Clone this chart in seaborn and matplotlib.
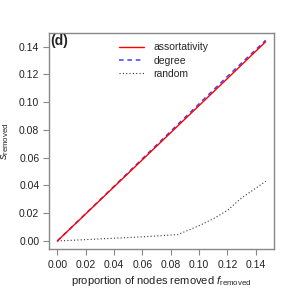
import numpy as np
import pandas as pd
import matplotlib
matplotlib.use("Agg")
import matplotlib.pyplot as plt
import seaborn as sns

# dados
f_assort = [0.0, 0.04, 0.08, 0.12, 0.147]
s_assort = [0.0, 0.0390, 0.0780, 0.1170, 0.1435]

f_degree = [0.0, 0.04, 0.08, 0.12, 0.147]
s_degree = [0.0, 0.0394, 0.0790, 0.1185, 0.1445]

f_random = [0.0, 0.02, 0.04, 0.06, 0.085, 0.10, 0.11, 0.12, 0.13, 0.14, 0.147]
s_random = [0.0, 0.001, 0.002, 0.003, 0.0046, 0.011, 0.016, 0.022, 0.031, 0.038, 0.043]

x_ticks = [0.00, 0.02, 0.04, 0.06, 0.08, 0.10, 0.12, 0.14]
y_ticks = [0.00, 0.02, 0.04, 0.06, 0.08, 0.10, 0.12, 0.14]

df = pd.concat([
    pd.DataFrame({'f': f_assort, 's': s_assort, 'metodo': 'assortativity'}),
    pd.DataFrame({'f': f_degree, 's': s_degree, 'metodo': 'degree'}),
    pd.DataFrame({'f': f_random, 's': s_random, 'metodo': 'random'}),
])

sns.set_style("ticks")
plt.rcParams['font.family'] = ['Liberation Sans', 'DejaVu Sans']
plt.rcParams['mathtext.fontset'] = 'custom'
plt.rcParams['mathtext.it'] = 'Liberation Sans:italic'
plt.rcParams['mathtext.rm'] = 'Liberation Sans'

fig = plt.figure(figsize=(2.91, 2.91), dpi=100)
ax = fig.add_axes([49 / 291, 1 - 249 / 291, 225 / 291, 216 / 291])

cores = {'assortativity': '#ff0000', 'degree': '#4040ff', 'random': '#333333'}
estilos = {'assortativity': '-', 'degree': (0, (3, 2.5)), 'random': (0, (1, 2))}
larg = {'assortativity': 1.0, 'degree': 1.1, 'random': 0.8}

for m in ['random', 'degree', 'assortativity']:
    d = df[df['metodo'] == m]
    sns.lineplot(data=d, x='f', y='s', ax=ax, color=cores[m], linestyle=estilos[m],
                 linewidth=larg[m], label=m, estimator=None, sort=False)

xmin, xmax = 0.0, 0.147
ymin, ymax = 0.0, 0.144
ax.set_xlim(xmin - 0.04 * (xmax - xmin), xmax + 0.04 * (xmax - xmin))
ax.set_ylim(ymin - 0.04 * (ymax - ymin), ymax + 0.04 * (ymax - ymin))
ax.set_xticks(x_ticks)
ax.set_xticklabels([f"{t:.2f}" for t in x_ticks])
ax.set_yticks(y_ticks)
ax.set_yticklabels([f"{t:.2f}" for t in y_ticks])

for sp in ax.spines.values():
    sp.set_visible(True)
    sp.set_color('#888888')
    sp.set_linewidth(1.0)
ax.tick_params(colors='#888888', labelcolor='#222222', labelsize=7.5, length=4, width=0.8)
ax.tick_params(axis='x', pad=4)
ax.tick_params(axis='y', pad=3)

ax.set_xlabel(r"proportion of nodes removed $f_{\mathrm{removed}}$", fontsize=8, color='#222222', labelpad=3)
ax.set_ylabel(r"$s_{\mathrm{removed}}$", fontsize=8, color='#222222', labelpad=6)

ax.text(0.005, 0.995, "(d)", transform=ax.transAxes, fontsize=10, fontweight='bold',
        ha='left', va='top')

h, l = ax.get_legend_handles_labels()
ordem = [l.index('assortativity'), l.index('degree'), l.index('random')]
ax.legend([h[i] for i in ordem], [l[i] for i in ordem], loc='upper center',
          bbox_to_anchor=(0.51, 0.99), frameon=False, fontsize=7.5, handlelength=2.4,
          handletextpad=0.9, labelspacing=0.3, borderpad=0.2)

fig.savefig("out.png", dpi=100)
